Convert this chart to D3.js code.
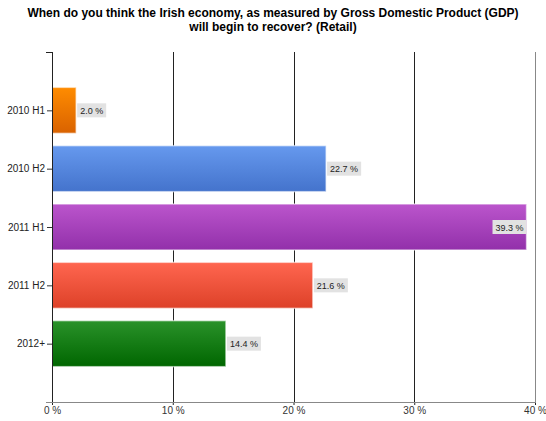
<!DOCTYPE html>
<html><head><meta charset="utf-8">
<script src="https://cdn.jsdelivr.net/npm/d3@7"></script>
<style>body{margin:0;background:#fff;}svg{display:block;font-family:"Liberation Sans",Arial,sans-serif;}</style>
</head><body><div id="chart"></div>
<script>
const categories = ["2010 H1", "2010 H2", "2011 H1", "2011 H2", "2012+"];
const values = [2.0, 22.7, 39.3, 21.6, 14.4];
const xTicks = [0, 10, 20, 30, 40];
const colorsTop = ["#ff8c00", "#6699ee", "#bb55cc", "#ff6650", "#2a922a"];
const colorsBottom = ["#d96200", "#4473cc", "#9230aa", "#dd4128", "#006600"];
const titleLines = ["When do you think the Irish economy, as measured by Gross Domestic Product (GDP)", "will begin to recover? (Retail)"];

const W = 546, H = 421;
const m = {left: 52, right: 11, top: 52, bottom: 19};
const svg = d3.select("#chart").append("svg").attr("width", W).attr("height", H);

const x = d3.scaleLinear().domain([0, 40]).range([m.left, W - m.right]);
const y = d3.scalePoint().domain(["_a", ...categories, "_b"]).range([m.top, H - m.bottom]);
const barH = 46;

svg.selectAll("text.title").data(titleLines).join("text")
  .attr("x", 273).attr("y", (d, i) => 17 + i * 14)
  .attr("text-anchor", "middle").attr("font-size", 12).attr("font-weight", "bold")
  .attr("fill", "#000").text(d => d);

const defs = svg.append("defs");
categories.forEach((c, i) => {
  const g = defs.append("linearGradient").attr("id", "g" + i).attr("x1", 0).attr("y1", 0).attr("x2", 0).attr("y2", 1);
  g.append("stop").attr("offset", 0).attr("stop-color", colorsTop[i]);
  g.append("stop").attr("offset", 1).attr("stop-color", colorsBottom[i]);
});

// gridlines
svg.selectAll("line.grid").data(xTicks.slice(1)).join("line")
  .attr("x1", d => Math.round(x(d)) + 0.5).attr("x2", d => Math.round(x(d)) + 0.5)
  .attr("y1", m.top).attr("y2", H - m.bottom)
  .attr("stroke", (d, i) => d === 40 ? "#888" : "#222").attr("stroke-width", 1);

// bars
svg.selectAll("rect.bar").data(categories).join("rect")
  .attr("x", x(0)).attr("y", d => y(d) - barH / 2)
  .attr("width", (d, i) => x(values[i]) - x(0)).attr("height", barH)
  .attr("fill", (d, i) => `url(#g${i})`)
  .attr("stroke", "rgba(255,255,255,0.55)").attr("stroke-width", 1.5);

// value labels
const lab = svg.selectAll("g.lab").data(categories).join("g");
lab.each(function(d, i) {
  const g = d3.select(this);
  const txt = values[i].toFixed(1) + " %";
  const t = g.append("text").attr("font-size", 9).attr("fill", "#222").text(txt);
  const w = t.node().getComputedTextLength() + 6;
  const end = x(values[i]);
  const inside = end + w + 1 > W - m.right;
  const bx = inside ? end - w : end + 1;
  g.insert("rect", "text").attr("x", bx).attr("y", y(d) - 7).attr("width", w).attr("height", 14)
    .attr("fill", "#e2e2e2");
  t.attr("x", bx + 3).attr("y", y(d) + 3.5);
});

// x axis
const xa = svg.append("g").attr("transform", `translate(0,${H - m.bottom})`)
  .call(d3.axisBottom(x).tickValues(xTicks).tickFormat(d => d + " %").tickSizeOuter(0).tickSize(3));
xa.select(".domain").remove();
xa.selectAll(".tick line").attr("stroke", "#222");
xa.selectAll(".tick text").attr("font-size", 10).attr("fill", "#333").attr("dy", "0.55em")
  .attr("font-family", "Liberation Sans, Arial, sans-serif");
svg.append("line").attr("x1", m.left - 6).attr("x2", W - m.right + 1)
  .attr("y1", H - m.bottom + 0.5).attr("y2", H - m.bottom + 0.5).attr("stroke", "#888");

// y axis
const ya = svg.append("g").attr("transform", `translate(${m.left},0)`)
  .call(d3.axisLeft(y).tickValues(categories).tickSize(5).tickSizeOuter(0));
ya.select(".domain").remove();
ya.selectAll(".tick line").attr("stroke", "#333");
ya.selectAll(".tick text").attr("font-size", 10).attr("fill", "#222").attr("x", -7)
  .attr("font-family", "Liberation Sans, Arial, sans-serif");
svg.append("line").attr("x1", m.left + 0.5).attr("x2", m.left + 0.5)
  .attr("y1", m.top).attr("y2", H - m.bottom).attr("stroke", "#222");
svg.append("line").attr("x1", m.left - 6).attr("x2", m.left).attr("y1", m.top + 0.5).attr("y2", m.top + 0.5).attr("stroke", "#222");
</script></body></html>
